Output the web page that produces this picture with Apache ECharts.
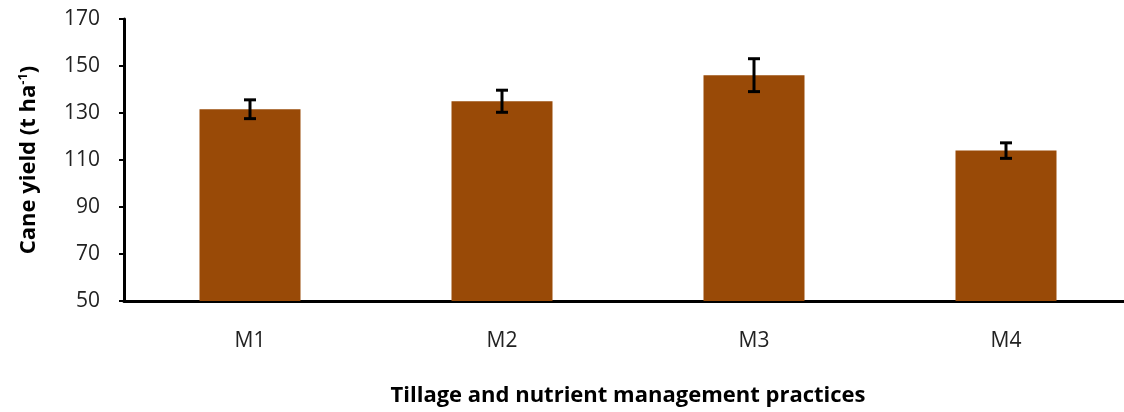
<!DOCTYPE html>
<html>
<head>
<meta charset="utf-8">
<script src="https://cdn.jsdelivr.net/npm/echarts@6/dist/echarts.min.js"></script>
<style>html,body{margin:0;padding:0;background:#fff}#c{width:1124px;height:412px}</style>
</head>
<body>
<div id="c"></div>
<script>
const categories = ['M1', 'M2', 'M3', 'M4'];
const yieldValues = [131.6, 135.0, 146.1, 114.0];
const errorValues = [4.0, 4.7, 7.0, 3.3];
const yTicks = [50, 70, 90, 110, 130, 150, 170];

const chart = echarts.init(document.getElementById('c'));
const FONT = '"Open Sans", sans-serif';
chart.setOption({
  animation: false,
  grid: { left: 124, top: 19, width: 1008, height: 282, containLabel: false, outerBoundsMode: 'none' },
  xAxis: {
    type: 'category',
    data: categories,
    axisLine: { lineStyle: { color: '#000', width: 3 } },
    axisTick: { show: false },
    axisLabel: { color: '#222', fontFamily: FONT, fontSize: 21, margin: 30 },
    name: 'Tillage and nutrient management practices',
    nameLocation: 'middle',
    nameGap: 84,
    nameTextStyle: { color: '#000', fontFamily: FONT, fontSize: 22, fontWeight: 'bold' }
  },
  yAxis: {
    type: 'value',
    min: yTicks[0],
    max: yTicks[yTicks.length - 1],
    interval: 20,
    splitLine: { show: false },
    axisLine: { show: true, lineStyle: { color: '#000', width: 3 } },
    axisTick: { show: true, length: 5, lineStyle: { color: '#000', width: 2 } },
    axisLabel: { color: '#222', fontFamily: FONT, fontSize: 21, margin: 24 },
    name: '{b|Cane yield (t ha}{s|-1}{b|)}',
    nameLocation: 'middle',
    nameRotate: 90,
    nameGap: 84,
    nameTextStyle: {
      rich: {
        b: { color: '#000', fontFamily: FONT, fontSize: 22, fontWeight: 'bold' },
        s: { color: '#000', fontFamily: FONT, fontSize: 13, fontWeight: 'bold', verticalAlign: 'top', padding: [0, 0, 10, 0] }
      }
    }
  },
  series: [
    {
      type: 'bar',
      data: yieldValues,
      barWidth: 101,
      itemStyle: { color: '#994a07' }
    },
    {
      type: 'custom',
      data: categories.map((c, i) => [i, yieldValues[i] - errorValues[i], yieldValues[i] + errorValues[i]]),
      renderItem: function (params, api) {
        const lo = api.coord([api.value(0), api.value(1)]);
        const hi = api.coord([api.value(0), api.value(2)]);
        const hw = 6;
        const style = { stroke: '#000', lineWidth: 3 };
        return {
          type: 'group',
          children: [
            { type: 'line', shape: { x1: hi[0], y1: hi[1], x2: lo[0], y2: lo[1] }, style: style },
            { type: 'line', shape: { x1: hi[0] - hw, y1: hi[1], x2: hi[0] + hw, y2: hi[1] }, style: style },
            { type: 'line', shape: { x1: lo[0] - hw, y1: lo[1], x2: lo[0] + hw, y2: lo[1] }, style: style }
          ]
        };
      },
      z: 10
    }
  ]
});
</script>
</body>
</html>
